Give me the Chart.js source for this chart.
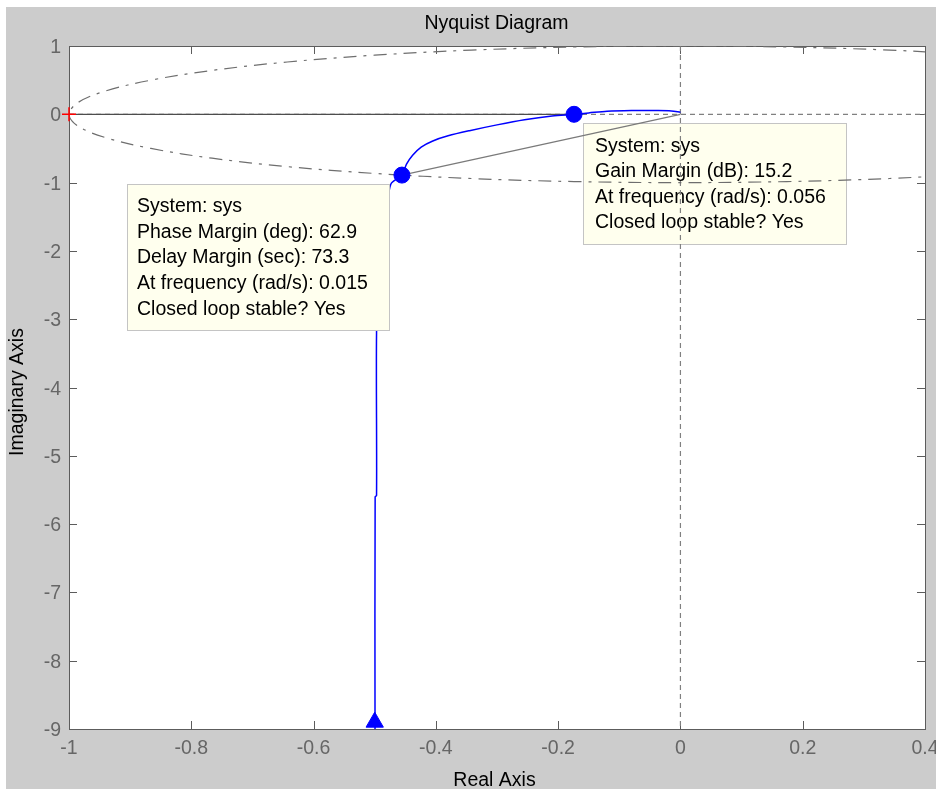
<!DOCTYPE html>
<html>
<head>
<meta charset="utf-8">
<title>Nyquist Diagram</title>
<script src="https://cdn.jsdelivr.net/npm/chart.js@4.4.1/dist/chart.umd.min.js"></script>
<style>
  html, body { margin: 0; padding: 0; background: #ffffff; }
  #wrap { position: absolute; left: 6px; top: 7px; width: 930px; height: 782px; background: #cccccc; overflow: hidden; }
</style>
</head>
<body>
<div id="wrap"><canvas id="nyq" width="930" height="782"></canvas></div>
<script>
// Nyquist curve (positive frequencies)
const NYQ_RE = [-0.4995, -0.4993, -0.497, -0.497, -0.493, -0.487, -0.480, -0.4735, -0.4555, -0.448, -0.438, -0.424, -0.405, -0.380, -0.345, -0.300, -0.255, -0.210, -0.174, -0.150, -0.120, -0.080, -0.040, -0.015, 0];
const NYQ_IM = [-9.0, -5.60, -5.58, -3.20, -2.40, -1.80, -1.40, -1.02, -0.890, -0.73, -0.60, -0.48, -0.39, -0.315, -0.24, -0.155, -0.08, -0.025, 0, 0.020, 0.045, 0.055, 0.055, 0.050, 0.030];

// unit circle (dash-dot reference)
const UNIT_RE = [0.5, 0.342, 0.174, 0, -0.174, -0.342, -0.5, -0.643, -0.766, -0.866, -0.940, -0.985, -1, -0.985, -0.940, -0.866, -0.766, -0.643, -0.5, -0.342, -0.174, 0, 0.174, 0.342, 0.5];
const UNIT_IM = [0.866, 0.940, 0.985, 1, 0.985, 0.940, 0.866, 0.766, 0.643, 0.5, 0.342, 0.174, 0, -0.174, -0.342, -0.5, -0.643, -0.766, -0.866, -0.940, -0.985, -1, -0.985, -0.940, -0.866];

// margin points: phase margin point, gain margin point
const MARGIN_RE = [-0.4555, -0.174];
const MARGIN_IM = [-0.890, 0];

// lines from the margin points
const GM_LINE_RE = [-1, -0.174];
const GM_LINE_IM = [0, 0];
const PM_LINE_RE = [-0.4555, 0];
const PM_LINE_IM = [-0.890, 0];

// zero lines
const ZERO_V_RE = [0, 0];
const ZERO_V_IM = [1, -9];
const ZERO_H_RE = [-1, 0.4];
const ZERO_H_IM = [0, 0];

// direction arrow and critical point
const ARROW_RE = [-0.5];
const ARROW_IM = [-8.9];
const CRIT_RE = [-1];
const CRIT_IM = [0];

// ticks
const X_TICKS = [-1, -0.8, -0.6, -0.4, -0.2, 0, 0.2, 0.4];
const X_LABELS = ['-1', '-0.8', '-0.6', '-0.4', '-0.2', '0', '0.2', '0.4'];
const Y_TICKS = [1, 0, -1, -2, -3, -4, -5, -6, -7, -8, -9];
const Y_LABELS = ['1', '0', '-1', '-2', '-3', '-4', '-5', '-6', '-7', '-8', '-9'];

// data tip texts
const PM_TEXT = ['System: sys', 'Phase Margin (deg): 62.9', 'Delay Margin (sec): 73.3', 'At frequency (rad/s): 0.015', 'Closed loop stable? Yes'];
const GM_TEXT = ['System: sys', 'Gain Margin (dB): 15.2', 'At frequency (rad/s): 0.056', 'Closed loop stable? Yes'];

const FONT = '"Liberation Sans", Arial, sans-serif';
const FS = 19.5;

const pts = (re, im) => re.map((v, i) => ({ x: v, y: im[i] }));

function drawTip(ctx, box, lines) {
  ctx.save();
  ctx.fillStyle = '#ffffee';
  ctx.fillRect(box.x, box.y, box.w, box.h);
  ctx.strokeStyle = '#c4c4c4';
  ctx.lineWidth = 1;
  ctx.strokeRect(box.x + 0.5, box.y + 0.5, box.w - 1, box.h - 1);
  ctx.fillStyle = '#000000';
  ctx.font = FS + 'px ' + FONT;
  ctx.textAlign = 'left';
  ctx.textBaseline = 'alphabetic';
  lines.forEach((t, i) => ctx.fillText(t, box.x + box.padX, box.y + box.base + i * box.step));
  ctx.restore();
}

// matlab style axes: white plot area, box frame, inward ticks, labels
const matlabAxes = {
  id: 'matlabAxes',
  beforeDraw(chart) {
    const { ctx, chartArea: a } = chart;
    ctx.save();
    ctx.fillStyle = '#ffffff';
    ctx.fillRect(a.left, a.top, a.right - a.left, a.bottom - a.top);
    ctx.restore();
  },
  beforeDatasetsDraw(chart) {
    const { ctx, chartArea: a, scales: { x, y } } = chart;
    ctx.save();
    ctx.strokeStyle = '#5c5c5c';
    ctx.lineWidth = 1;
    ctx.strokeRect(a.left + 0.5, a.top + 0.5, a.right - a.left, a.bottom - a.top);
    ctx.beginPath();
    X_TICKS.forEach(v => {
      const px = Math.round(x.getPixelForValue(v)) + 0.5;
      ctx.moveTo(px, a.bottom); ctx.lineTo(px, a.bottom - 8);
      ctx.moveTo(px, a.top); ctx.lineTo(px, a.top + 8);
    });
    Y_TICKS.forEach(v => {
      const py = Math.round(y.getPixelForValue(v)) + 0.5;
      ctx.moveTo(a.left, py); ctx.lineTo(a.left + 8, py);
      ctx.moveTo(a.right, py); ctx.lineTo(a.right - 8, py);
    });
    ctx.stroke();

    // tick labels
    ctx.fillStyle = '#666666';
    ctx.font = FS + 'px ' + FONT;
    ctx.textBaseline = 'alphabetic';
    ctx.textAlign = 'center';
    X_TICKS.forEach((v, i) => ctx.fillText(X_LABELS[i], x.getPixelForValue(v), a.bottom + 25));
    ctx.textAlign = 'right';
    Y_TICKS.forEach((v, i) => ctx.fillText(Y_LABELS[i], a.left - 8, y.getPixelForValue(v) + 7));

    // titles
    ctx.fillStyle = '#000000';
    ctx.textAlign = 'center';
    ctx.fillText('Nyquist Diagram', 490.5, 21.5);
    ctx.fillText('Real Axis', 488.5, 779);
    ctx.translate(16.5, 385);
    ctx.rotate(-Math.PI / 2);
    ctx.fillText('Imaginary Axis', 0, 0);
    ctx.restore();

    // gain margin tip sits under the curves
    drawTip(ctx, { x: 577, y: 116, w: 264, h: 122, padX: 12, base: 28.7, step: 25.5 }, GM_TEXT);
  },
  afterDatasetsDraw(chart) {
    drawTip(chart.ctx, { x: 121, y: 177, w: 263, h: 147, padX: 10, base: 27.7, step: 25.8 }, PM_TEXT);
  }
};

new Chart(document.getElementById('nyq'), {
  type: 'scatter',
  data: {
    datasets: [
      {
        data: pts(MARGIN_RE, MARGIN_IM),
        showLine: false,
        pointStyle: 'circle',
        pointRadius: 8,
        backgroundColor: '#0000ff',
        borderColor: '#0000ff',
        clip: false
      },
      {
        data: pts(ARROW_RE, ARROW_IM),
        showLine: false,
        pointStyle: 'triangle',
        pointRadius: 10,
        backgroundColor: '#0000ff',
        borderColor: '#0000ff',
        clip: false
      },
      {
        data: pts(CRIT_RE, CRIT_IM),
        showLine: false,
        pointStyle: 'cross',
        pointRadius: 7,
        borderColor: '#ff0000',
        borderWidth: 1.5,
        clip: false
      },
      {
        data: pts(NYQ_RE, NYQ_IM),
        showLine: true,
        borderColor: '#0000ff',
        borderWidth: 1.5,
        pointRadius: 0,
        tension: 0.3
      },
      {
        data: pts(GM_LINE_RE, GM_LINE_IM),
        showLine: true,
        borderColor: '#4d4d4d',
        borderWidth: 1.2,
        pointRadius: 0
      },
      {
        data: pts(PM_LINE_RE, PM_LINE_IM),
        showLine: true,
        borderColor: '#7a7a7a',
        borderWidth: 1.2,
        pointRadius: 0
      },
      {
        data: pts(UNIT_RE, UNIT_IM),
        showLine: true,
        borderColor: '#6e6e6e',
        borderWidth: 1.2,
        borderDash: [13, 7, 3, 7],
        pointRadius: 0,
        tension: 0.35
      },
      {
        data: pts(ZERO_V_RE, ZERO_V_IM),
        showLine: true,
        borderColor: '#808080',
        borderWidth: 1.2,
        borderDash: [5, 4],
        pointRadius: 0
      },
      {
        data: pts(ZERO_H_RE, ZERO_H_IM),
        showLine: true,
        borderColor: '#808080',
        borderWidth: 1.2,
        borderDash: [5, 4],
        pointRadius: 0
      }
    ]
  },
  options: {
    responsive: false,
    animation: false,
    devicePixelRatio: 1,
    layout: { padding: { left: 63, top: 39, right: 9, bottom: 60 } },
    scales: {
      x: { type: 'linear', display: false, min: -1, max: 0.4 },
      y: { type: 'linear', display: false, min: -9, max: 1 }
    },
    plugins: {
      legend: { display: false },
      tooltip: { enabled: false }
    }
  },
  plugins: [matlabAxes]
});
</script>
</body>
</html>
